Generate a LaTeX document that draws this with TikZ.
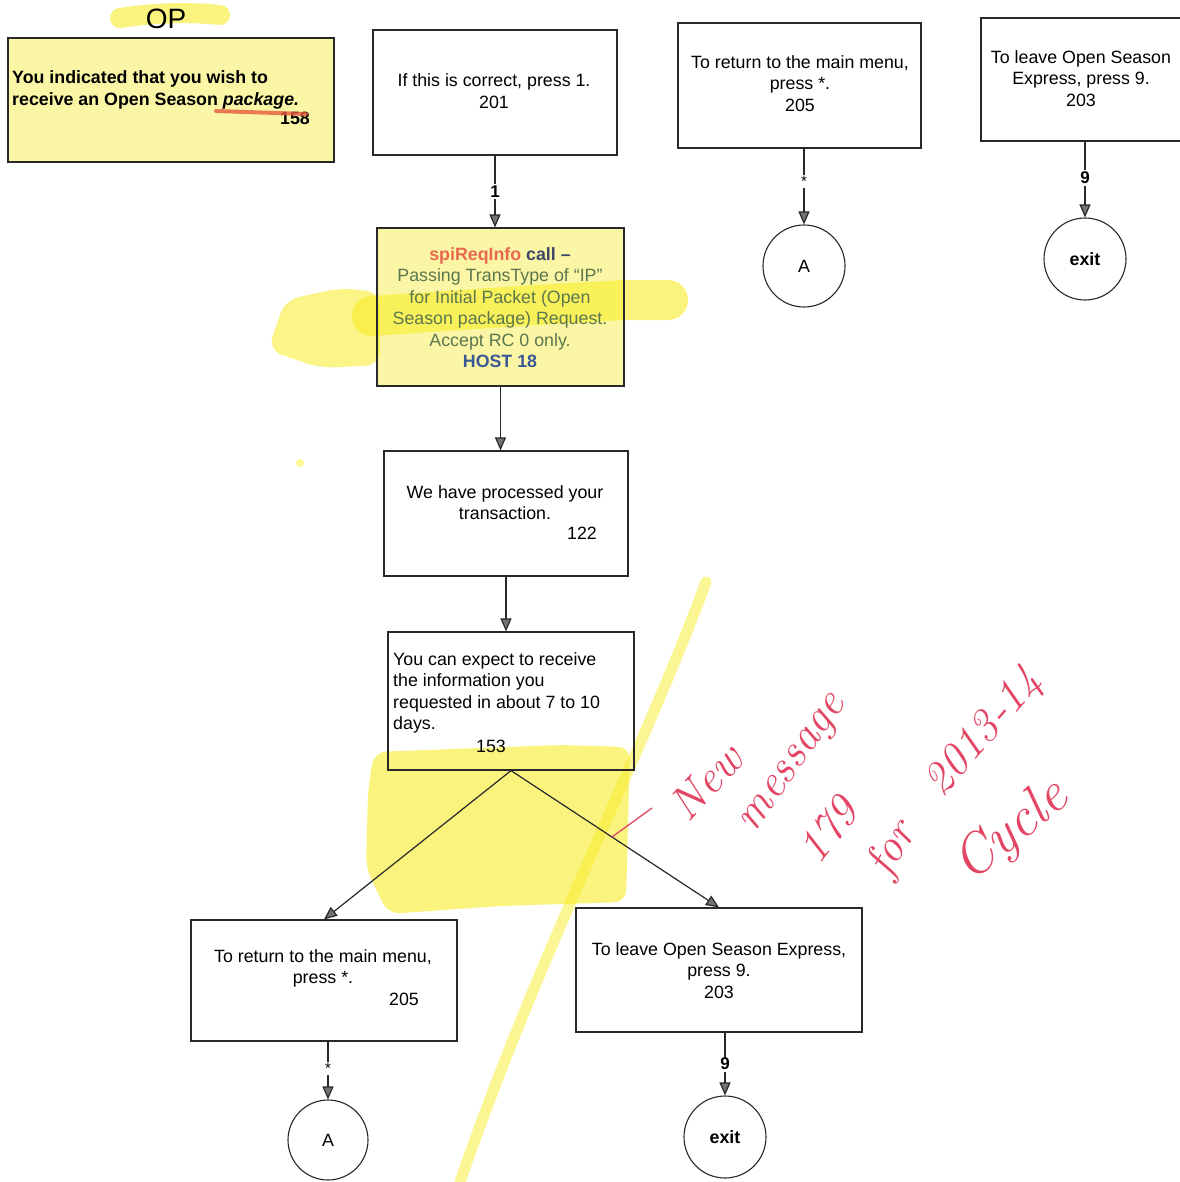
\documentclass[tikz,border=0pt]{standalone}
\usepackage{fontspec}
\setsansfont{Liberation Sans}
\usetikzlibrary{arrows.meta}
\definecolor{boxyel}{RGB}{250,246,165}
\definecolor{hlyel}{RGB}{248,238,40}
\definecolor{pen}{RGB}{226,70,100}
\definecolor{ulred}{RGB}{230,90,60}
\definecolor{spired}{RGB}{232,104,80}
\definecolor{spinavy}{RGB}{60,72,100}
\definecolor{spigreen}{RGB}{92,118,78}
\definecolor{spiblue}{RGB}{58,88,150}
\definecolor{ink}{RGB}{40,40,40}
\definecolor{tipgray}{RGB}{115,115,115}
\pgfdeclarelayer{bg}
\pgfdeclarelayer{hl}
\pgfsetlayers{bg,hl,main}
\tikzset{
  box/.style={draw=ink, line width=1.2pt, rectangle, inner sep=0pt},
  circ/.style={draw=ink, line width=1.1pt, circle, inner sep=0pt, minimum size=82pt, font=\sffamily\fontsize{17.8}{21.5}\selectfont},
  txt/.style={inner sep=0pt, align=center},
  arr/.style={draw=ink, line width=1.2pt, -{Triangle[length=13pt,width=11pt,fill=tipgray]}},
  lbl/.style={fill=white, inner sep=1.5pt, font=\sffamily\bfseries\fontsize{17}{18}\selectfont},
  lblstar/.style={fill=white, inner sep=1.5pt, font=\sffamily\fontsize{15}{16}\selectfont},
  hl/.style={draw=hlyel, opacity=0.6, line cap=round, line join=round},
  hand/.style={inner sep=0pt, text=pen, font=\rmfamily\itshape\fontsize{46}{46}\selectfont}
}
\begin{document}
\begin{tikzpicture}[x=1pt, y=-1pt, font=\sffamily\fontsize{17.8}{21.5}\selectfont]
\useasboundingbox (0,0) rectangle (1179,1182);
\begin{pgfonlayer}{bg}
  \fill[white] (0,0) rectangle (1179,1182);
\end{pgfonlayer}

% ---------- boxes ----------
\node[box, minimum width=326pt, minimum height=124pt] (b158) at (171,100) {};
\node[box, minimum width=244pt, minimum height=125pt] (b201) at (495,92.5) {};
\node[box, minimum width=243pt, minimum height=125pt] (b205t) at (799.5,85.5) {};
\node[box, minimum width=202pt, minimum height=123pt] (b203t) at (1082,79.5) {};
\node[box, minimum width=247pt, minimum height=158pt] (bspi) at (500.5,307) {};
\node[box, minimum width=244pt, minimum height=125pt] (b122) at (506,513.5) {};
\node[box, minimum width=246pt, minimum height=138pt] (b153) at (511,701) {};
\node[box, minimum width=266pt, minimum height=121pt] (b205b) at (324,980.5) {};
\node[box, minimum width=286pt, minimum height=124pt] (b203b) at (719,970) {};

% ---------- circles ----------
\node[circ] (cAt) at (804,266) {A};
\node[circ, font=\sffamily\bfseries\fontsize{17.8}{21.5}\selectfont] (cExt) at (1085,259) {exit};
\node[circ, minimum size=80pt] (cAb) at (328,1140) {A};
\node[circ, font=\sffamily\bfseries\fontsize{17.8}{21.5}\selectfont] (cExb) at (725,1137) {exit};

% ---------- fills under highlighter ----------
\begin{pgfonlayer}{bg}
  \fill[boxyel] (b158.north west) rectangle (b158.south east);
  \fill[boxyel] (bspi.north west) rectangle (bspi.south east);
\end{pgfonlayer}

% ---------- highlighter marks ----------
\begin{pgfonlayer}{hl}
  \draw[hl, line width=20pt] (120,18) .. controls (160,12) and (190,12) .. (220,15);
  \fill[hlyel, opacity=0.55, rounded corners=14pt] (268,350) -- (285,300) -- (340,288) -- (380,292) -- (380,365) -- (320,368) -- cycle;
  \draw[hl, line width=40pt] (372,316) -- (520,306) -- (625,300) -- (668,300);
  \fill[hlyel, opacity=0.6, rounded corners=12pt] (368,790) -- (374,752) -- (560,745) -- (630,747) -- (626,902) -- (500,906) -- (388,914) -- (366,868) -- cycle;
  \draw[hl, line width=11pt, opacity=0.5] (706,582) .. controls (640,760) and (540,950) .. (460,1182);
  \fill[hlyel, opacity=0.5] (300,463) circle (4pt);
\end{pgfonlayer}

% ---------- texts ----------
\node[txt, anchor=west, align=left, font=\sffamily\bfseries\fontsize{17.8}{21.5}\selectfont] (t158) at (12,90)
  {You indicated that you wish to\\receive an Open Season \textit{package.}};
\node[txt, font=\sffamily\bfseries\fontsize{17.8}{21.5}\selectfont] (n158) at (295,118) {158};
\node[txt] (t201) at (494,91) {If this is correct, press 1.\\201};
\node[txt] (t205t) at (800,83.5) {To return to the main menu,\\press *.\\205};
\node[txt] (t203t) at (1081,78.5) {To leave Open Season\\Express, press 9.\\203};
\node[txt, text=spigreen] (tspi) at (500,307.5)
  {{\bfseries\color{spired}spiReqInfo} {\bfseries\color{spinavy}call –}\\
   Passing TransType of “IP”\\for Initial Packet (Open\\Season package) Request.\\Accept RC 0 only.\\
   {\bfseries\color{spiblue}HOST 18}};
\node[txt] (t122) at (505,502.5) {We have processed your\\transaction.};
\node[txt] (n122) at (582,533) {122};
\node[txt, anchor=west, align=left] (t153) at (393,693) {You can expect to receive\\the information you\\requested in about 7 to 10\\days.};
\node[txt] (n153) at (491,746) {153};
\node[txt] (t205b) at (323,968.5) {To return to the main menu,\\press *.};
\node[txt] (n205b) at (404,999) {205};
\node[txt] (t203b) at (719,970.5) {To leave Open Season Express,\\press 9.\\203};
\node[txt, font=\sffamily\fontsize{28}{30}\selectfont] (op) at (166,19) {OP};

% ---------- connectors ----------
\draw[arr] (b201.south) -- (b201.south |- bspi.north) node[lbl, midway] {1};
\draw[arr] (bspi.south) -- (bspi.south |- b122.north);
\draw[arr] (b122.south) -- (b122.south |- b153.north);
\draw[arr] (b153.south) -- (b205b.north);
\draw[arr] (b153.south) -- (b203b.north);
\draw[arr] (cAt.north |- b205t.south) -- (cAt.north) node[lblstar, pos=0.43] {*};
\draw[arr] (cExt.north |- b203t.south) -- (cExt.north) node[lbl, pos=0.48] {9};
\draw[arr] (cAb.north |- b205b.south) -- (cAb.north) node[lblstar, pos=0.47] {*};
\draw[arr] (cExb.north |- b203b.south) -- (cExb.north) node[lbl, pos=0.5] {9};

% ---------- pen annotations ----------
\draw[ulred, line width=4pt, opacity=0.8, line cap=round] (216,111) -- (306,114);
\coordinate (penstart) at (612,837);
\coordinate (penend) at (652,808);
\draw[pen, line width=1.3pt] (penstart) -- (penend);
\node[hand, rotate=47] (hw1) at (706,782) {New};
\node[hand, rotate=55] (hw2) at (796,765) {message};
\node[hand, rotate=52] (hw3) at (828,830) {179};
\node[hand, rotate=60] (hw4) at (893,850) {for};
\node[hand, rotate=49] (hw5) at (985,733) {2013-14};
\node[hand, rotate=39, font=\rmfamily\itshape\fontsize{56}{56}\selectfont] (hw6) at (1012,832) {Cycle};
\end{tikzpicture}
\end{document}
